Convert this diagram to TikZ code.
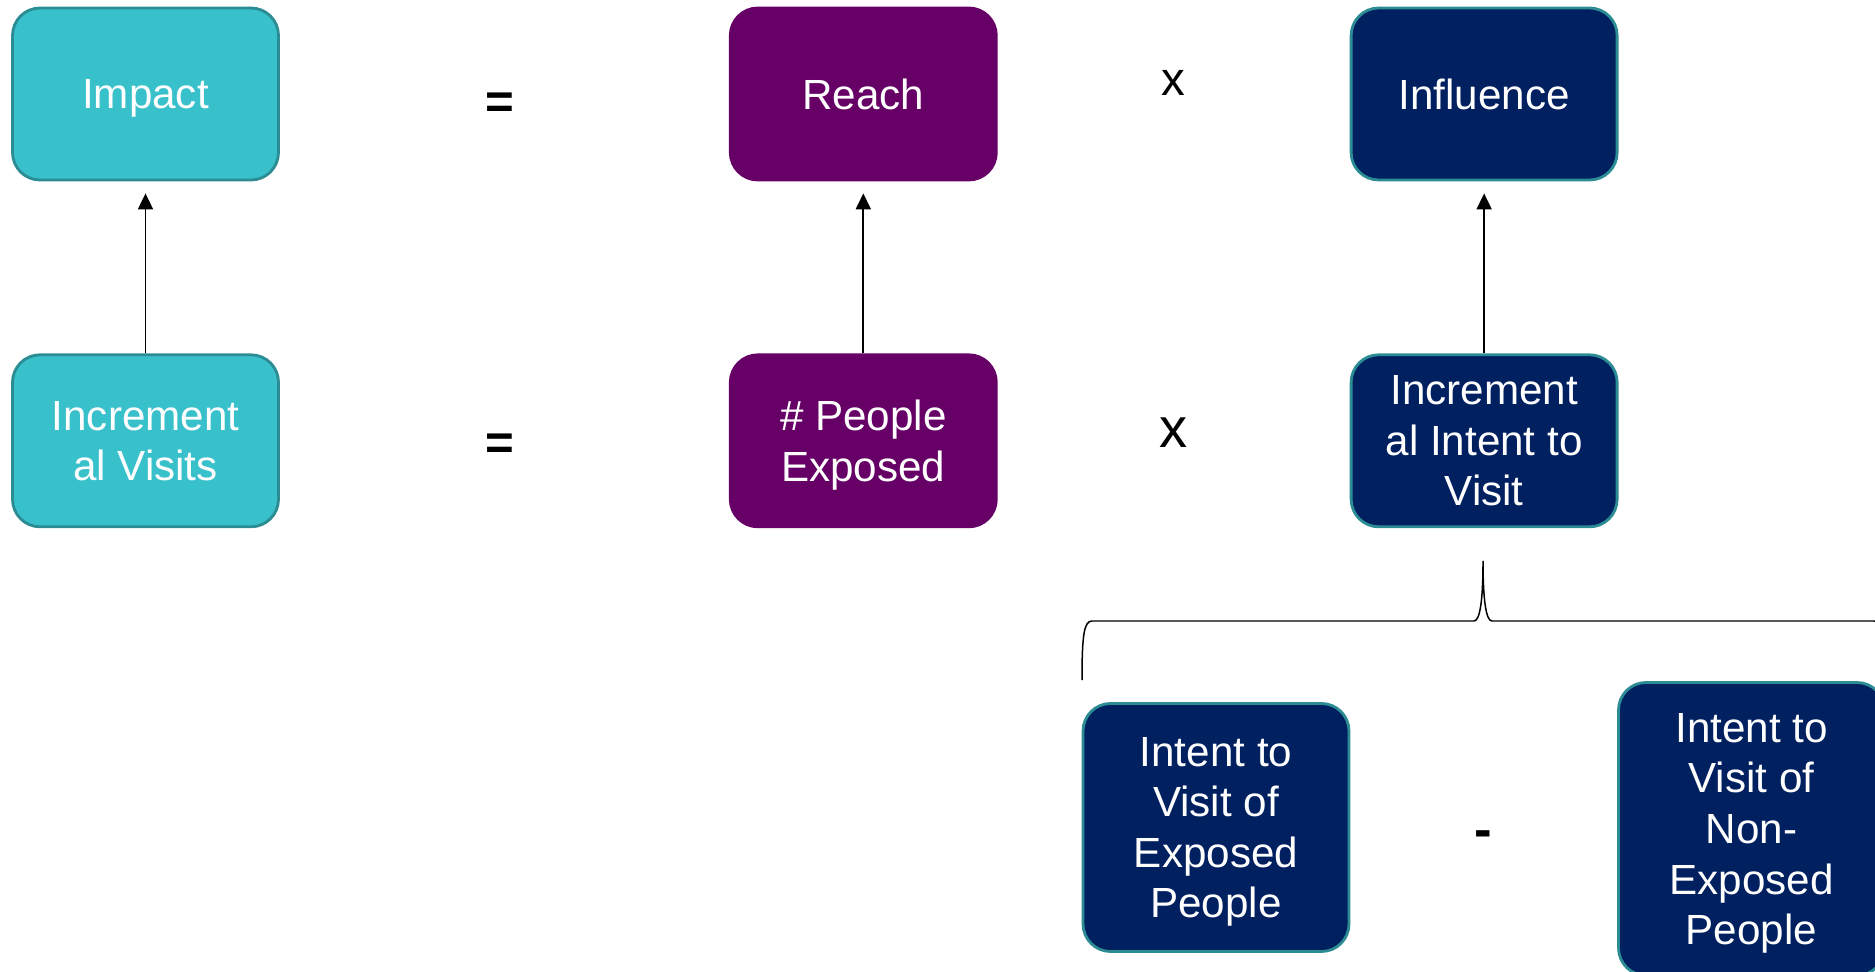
\documentclass[tikz,border=0pt]{standalone}
\usepackage{xcolor}
\usepackage{fontspec}
\setmainfont{Liberation Sans}
\usepackage{tikz}
\usetikzlibrary{arrows.meta,positioning}
\definecolor{teal2}{RGB}{56,192,203}
\definecolor{tealline}{RGB}{44,140,148}
\definecolor{purple2}{RGB}{102,0,102}
\definecolor{navy}{RGB}{0,32,96}
\tikzset{
  tealbox/.style={draw=tealline, fill=teal2, rounded corners=0.55cm, line width=1.6pt,
    minimum width=5.32cm, minimum height=3.44cm, align=center, text=white, text depth=0pt,
    font=\fontsize{24}{28.8}\selectfont},
  purplebox/.style={draw=purple2, fill=purple2, rounded corners=0.55cm, line width=1.6pt,
    minimum width=5.32cm, minimum height=3.44cm, align=center, text=white, text depth=0pt,
    font=\fontsize{24}{28.8}\selectfont},
  navybox/.style={draw=tealline, fill=navy, rounded corners=0.55cm, line width=1.6pt,
    minimum width=5.32cm, minimum height=3.44cm, align=center, text=white, text depth=0pt,
    font=\fontsize{24}{28.8}\selectfont},
  opsign/.style={inner sep=0pt, text=black},
  upflow/.style={-{Triangle[length=0.32cm, width=0.3cm]}, line width=1.1pt, shorten >=0.24cm},
  bracestroke/.style={line width=0.85pt}
}
\begin{document}
\begin{tikzpicture}
\useasboundingbox (0,0) rectangle (37.5,-19.44);
\clip (0,0) rectangle (37.5,-19.44);

\node[tealbox] (impact) at (2.91,-1.88) {Impact};
\node[purplebox, right=8.98cm of impact] (reach) {Reach};
\node[navybox, right=7.04cm of reach] (influence) {Influence};
\node[tealbox, below=3.44cm of impact] (incvisits) {Increment\\al Visits};
\node[purplebox, below=3.44cm of reach] (exposed) {\# People\\Exposed};
\node[navybox, below=3.44cm of influence] (incintent) {Increment\\al Intent to\\Visit};
\node[navybox, minimum height=4.96cm] (intexp) at (24.32,-16.55) {Intent to\\Visit of\\Exposed\\People};
\node[navybox, minimum height=5.86cm] (intnon) at (35.03,-16.58) {Intent to\\Visit of\\Non-\\Exposed\\People};

% operators
\node[opsign, font=\fontsize{28}{34}\selectfont\bfseries] (eq1) at (9.99,-2.12) {=};
\node[opsign, font=\fontsize{28}{34}\selectfont\bfseries] (eq2) at (9.99,-8.94) {=};
\node[opsign, font=\fontsize{27}{32}\selectfont] (x1) at (23.46,-1.65) {x};
\node[opsign, font=\fontsize{32}{38}\selectfont] (x2) at (23.47,-8.65) {x};
\node[opsign, font=\fontsize{30}{36}\selectfont\bfseries] (minus) at (29.67,-16.79) {-};

\draw[upflow] (incvisits) -- (impact);
\draw[upflow] (exposed) -- (reach);
\draw[upflow] (incintent) -- (influence);

% brace under the intent box
\coordinate (brL) at (21.64,-13.6);
\coordinate (brT) at (29.66,-11.22);
\coordinate (brR) at (37.68,-13.6);
\draw[bracestroke] (brL) .. controls (21.64,-12.7) and (21.68,-12.42) .. (21.84,-12.42)
  -- (29.48,-12.42) .. controls (29.6,-12.42) and (29.66,-12.0) .. (brT)
  .. controls (29.66,-12.0) and (29.72,-12.42) .. (29.84,-12.42)
  -- (37.48,-12.42) .. controls (37.64,-12.42) and (37.68,-12.7) .. (brR);
\end{tikzpicture}
\end{document}
